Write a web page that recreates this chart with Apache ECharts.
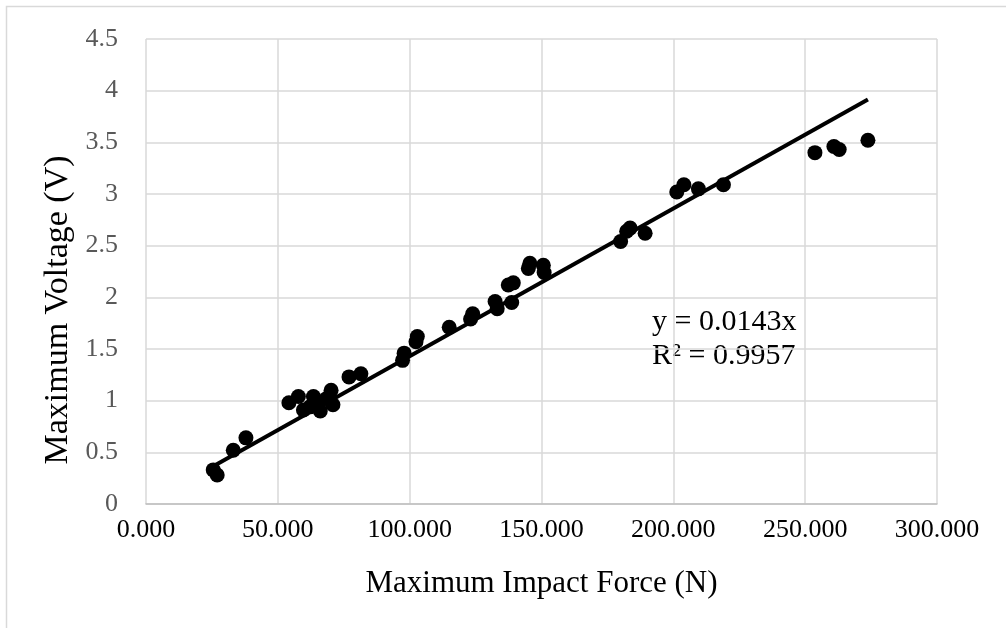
<!DOCTYPE html>
<html>
<head>
<meta charset="utf-8">
<script src="https://cdn.jsdelivr.net/npm/echarts@6/dist/echarts.min.js"></script>
<style>
  html, body { margin: 0; padding: 0; background: #fff; }
  #chart { width: 1006px; height: 628px; }
</style>
</head>
<body>
<div id="chart"></div>
<script>
// Measured impact force (N) and peak voltage (V) per trial
const forceN = [
  25.5, 27.0, 33.1, 37.9,
  54.2, 57.8, 59.7, 62.2, 63.5, 65.4, 66.1, 68.5, 70.2, 70.9,
  77.0, 81.5,
  97.3, 97.9, 102.4, 102.9, 115.0, 123.1, 123.9,
  132.4, 133.2, 137.4, 138.7, 139.3,
  145.0, 145.6, 150.7, 151.0,
  180.0, 182.3, 183.6, 189.3,
  201.3, 204.0, 209.5, 219.0,
  253.7, 260.9, 262.9, 273.8
];
const voltageV = [
  0.33, 0.28, 0.52, 0.64,
  0.98, 1.04, 0.91, 0.94, 1.04, 0.99, 0.90, 1.02, 1.10, 0.96,
  1.23, 1.26,
  1.39, 1.46, 1.57, 1.62, 1.71, 1.79, 1.84,
  1.96, 1.89, 2.12, 1.95, 2.14,
  2.28, 2.33, 2.31, 2.24,
  2.54, 2.64, 2.67, 2.62,
  3.02, 3.09, 3.05, 3.09,
  3.40, 3.46, 3.43, 3.52
];

// Linear fit through the origin
const slope = 0.0143;
const rSquared = 0.9957;

const xTicks = { min: 0, max: 300, interval: 50 };
const yTicks = { min: 0, max: 4.5, interval: 0.5 };

const xTitle = 'Maximum Impact Force (N)';
const yTitle = 'Maximum Voltage (V)';

const points = forceN.map((f, i) => [f, voltageV[i]]);
const xLo = Math.min(...forceN);
const xHi = Math.max(...forceN);
const fitLine = [[xLo, slope * xLo], [xHi, slope * xHi]];

const serif = "'Liberation Serif', 'Times New Roman', serif";
const gridColor = '#d9d9d9';

const chart = echarts.init(document.getElementById('chart'), null, { renderer: 'canvas' });
chart.setOption({
  backgroundColor: '#ffffff',
  animation: false,
  grid: { left: 146, right: 69, top: 39, bottom: 124, containLabel: false },
  xAxis: {
    type: 'value',
    min: xTicks.min, max: xTicks.max, interval: xTicks.interval,
    name: xTitle,
    nameLocation: 'middle',
    nameGap: 64,
    nameTextStyle: { fontFamily: serif, fontSize: 31, color: '#000' },
    axisLine: { show: true, lineStyle: { color: '#bfbfbf', width: 1.5 } },
    axisTick: { show: false },
    axisLabel: {
      fontFamily: serif, fontSize: 26, color: '#000', margin: 13,
      formatter: v => v.toFixed(3)
    },
    splitLine: { show: true, lineStyle: { color: gridColor, width: 1.5 } }
  },
  yAxis: {
    type: 'value',
    min: yTicks.min, max: yTicks.max, interval: yTicks.interval,
    axisLine: { show: false },
    axisTick: { show: false },
    axisLabel: {
      fontFamily: serif, fontSize: 26, color: '#595959', margin: 28,
      formatter: v => String(v)
    },
    splitLine: { show: true, lineStyle: { color: gridColor, width: 1.5 } }
  },
  series: [
    {
      type: 'scatter',
      data: points,
      symbol: 'circle',
      symbolSize: 15,
      itemStyle: { color: '#000', opacity: 1 },
      z: 3
    },
    {
      type: 'line',
      data: fitLine,
      symbol: 'none',
      lineStyle: { color: '#000', width: 4 },
      z: 4
    }
  ],
  graphic: [
    {
      type: 'rect',
      shape: { x: 6.5, y: 6.5, width: 1010, height: 630 },
      style: { fill: 'none', stroke: gridColor, lineWidth: 1.5 },
      silent: true
    },
    {
      // vertical axis title
      type: 'text',
      x: 58, y: 310,
      rotation: Math.PI / 2,
      style: {
        text: yTitle,
        font: "34px 'Liberation Serif', 'Times New Roman', serif",
        fill: '#000',
        align: 'center',
        verticalAlign: 'middle'
      }
    },
    {
      // regression equation and fit quality
      type: 'text',
      left: 652, top: 305,
      style: {
        text: 'y = ' + slope + 'x\nR² = ' + rSquared,
        font: "30px 'Liberation Serif', 'Times New Roman', serif",
        fill: '#000',
        lineHeight: 34
      }
    }
  ]
});
</script>
</body>
</html>
